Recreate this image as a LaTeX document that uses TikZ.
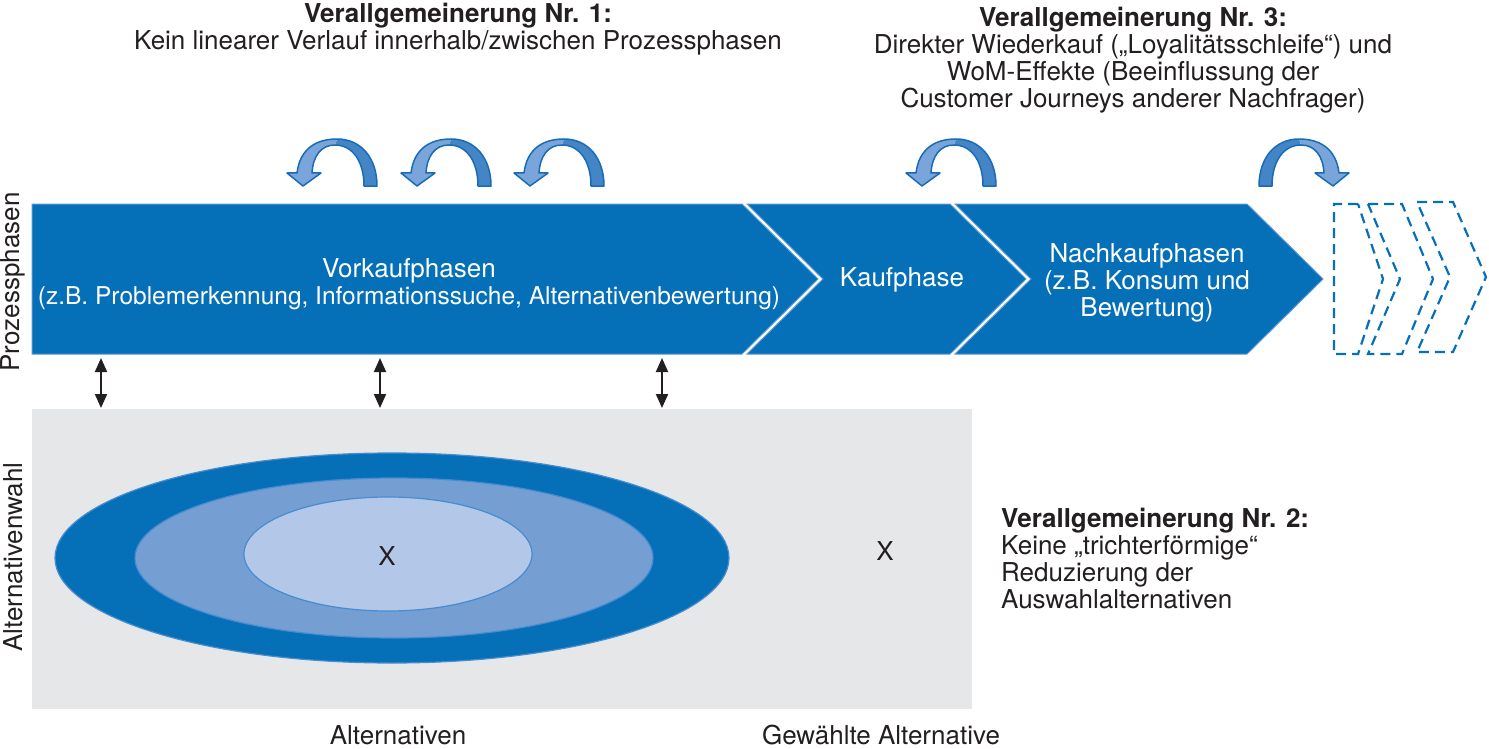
\documentclass[tikz,border=0pt]{standalone}
\usepackage{fontspec}
\setmainfont{TeX Gyre Heros}
\usetikzlibrary{arrows.meta}
\definecolor{mblue}{RGB}{5,112,184}
\definecolor{medge}{RGB}{86,150,212}
\definecolor{midell}{RGB}{117,158,211}
\definecolor{inell}{RGB}{179,200,232}
\definecolor{elledge}{RGB}{70,140,208}
\definecolor{greybg}{RGB}{230,231,233}
\definecolor{adark}{RGB}{68,133,198}
\definecolor{alight}{RGB}{122,165,218}
\definecolor{aline}{RGB}{24,108,183}
\definecolor{tblack}{RGB}{35,31,32}
\tikzset{
  txt/.style={font=\fontsize{26}{27}\selectfont, text=tblack, inner sep=0pt, align=center},
  wtxt/.style={txt, text=white},
  chev/.style={fill=mblue, draw=medge, line width=1},
  dchev/.style={draw=mblue, line width=2.2, dash pattern=on 10pt off 6pt, line join=miter},
  dblarr/.style={draw=tblack, line width=2, {Triangle[width=12pt,length=14pt]}-{Triangle[width=12pt,length=14pt]}},
  looparr/.pic={
    \fill[adark] (34,47) .. controls (58,47) and (74,28) .. (74,0) -- (61,0) .. controls (61,24) and (50,41) .. (32,41) -- cycle;
    \fill[alight] (-6,13) .. controls (-3,38) and (14,47) .. (34,47) -- (32,41) .. controls (18,41) and (10,30) .. (9,13) -- cycle;
    \fill[alight] (-16,13) -- (18,13) -- (0,0) -- cycle;
    \draw[aline, line width=1.5, line join=round] (0,0) -- (18,13) -- (9,13) .. controls (10,30) and (18,41) .. (32,41) .. controls (50,41) and (61,24) .. (61,0) -- (74,0) .. controls (74,28) and (58,47) .. (34,47) .. controls (14,47) and (-3,38) .. (-6,13) -- (-16,13) -- cycle;
  }
}
\begin{document}
\begin{tikzpicture}[x=1pt,y=1pt]
\useasboundingbox (0,0) rectangle (1489,-749);

% headings
\node[txt] (g1) at (458,-29) {\textbf{Verallgemeinerung Nr. 1:}\\Kein linearer Verlauf innerhalb/zwischen Prozessphasen};
\node[txt] (g3) at (1133,-60.5) {\textbf{Verallgemeinerung Nr. 3:}\\Direkter Wiederkauf („Loyalitätsschleife“) und\\WoM-Effekte (Beeinflussung der\\Customer Journeys anderer Nachfrager)};
\node[txt, anchor=north west, align=left] (g2) at (1001,-508) {\textbf{Verallgemeinerung Nr. 2:}\\Keine „trichterförmige“\\Reduzierung der\\Auswahlalternativen};

% loop arrows
\pic at (303,-186) {looparr};
\pic at (417,-186) {looparr};
\pic at (530,-186) {looparr};
\pic at (922,-186) {looparr};
\pic[xscale=-1] at (1333,-186) {looparr};

% process chevrons
\path[chev] (32,-204) -- (742,-204) -- (818,-279) -- (742,-354) -- (32,-354) -- cycle;
\path[chev] (747,-204) -- (950,-204) -- (1026,-279) -- (950,-354) -- (747,-354) -- (823,-279) -- cycle;
\path[chev] (955,-204) -- (1247,-204) -- (1323,-279) -- (1247,-354) -- (955,-354) -- (1031,-279) -- cycle;

\node[wtxt] (vork) at (409,-284.5) {Vorkaufphasen\\{\fontsize{24.5}{27}\selectfont(z.B. Problemerkennung, Informationssuche, Alternativenbewertung)}};
\node[wtxt] (kauf) at (902,-280) {Kaufphase};
\node[wtxt] (nach) at (1147,-283) {Nachkaufphasen\\(z.B. Konsum und\\Bewertung)};

% dashed chevrons
\draw[dchev] (1358,-204) -- (1334,-204) -- (1334,-354) -- (1358,-354) -- (1383,-279) -- cycle;
\draw[dchev] (1368,-204) -- (1402,-204) -- (1433,-279) -- (1402,-354) -- (1368,-354) -- (1400,-279) -- cycle;
\draw[dchev] (1417,-202) -- (1453,-202) -- (1486,-277) -- (1453,-352) -- (1417,-352) -- (1450,-277) -- cycle;

% side labels
\node[txt, rotate=90] (lp) at (13,-282) {Prozessphasen};
\node[txt, rotate=90] (la) at (13,-557) {Alternativenwahl};

% grey area
\fill[greybg] (32,-409) rectangle (972,-709);
\fill[mblue, draw=elledge, line width=1.2] (392,-558) ellipse [x radius=337, y radius=105];
\fill[midell, draw=elledge, line width=1.2] (394,-558) ellipse [x radius=259, y radius=80];
\fill[inell, draw=elledge, line width=1.2] (388,-554) ellipse [x radius=144, y radius=57];
\node[txt] (x1) at (387,-556) {X};
\node[txt] (x2) at (885,-551) {X};

% bottom labels
\node[txt] (balt) at (398,-735) {Alternativen};
\node[txt] (bgew) at (881,-735) {Gewählte Alternative};

% double arrows
\coordinate (d1a) at (101,-358); \coordinate (d1b) at (101,-408);
\coordinate (d2a) at (380,-358); \coordinate (d2b) at (380,-408);
\coordinate (d3a) at (662,-358); \coordinate (d3b) at (662,-408);
\draw[dblarr] (d1a) -- (d1b);
\draw[dblarr] (d2a) -- (d2b);
\draw[dblarr] (d3a) -- (d3b);
\end{tikzpicture}
\end{document}
